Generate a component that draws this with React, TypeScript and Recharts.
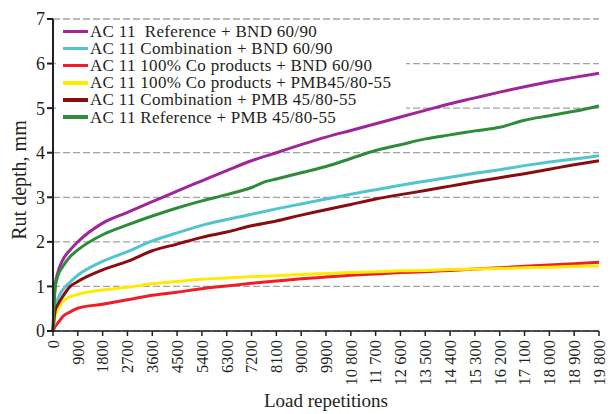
import React from 'react';
import { LineChart, Line, XAxis, YAxis, CartesianGrid, Legend, Label, Customized } from 'recharts';

const loads = [0, 75, 165, 350, 625, 900, 1800, 2700, 3600, 4500, 5400, 6300, 7200, 7700, 8100, 9000, 9900, 10800, 11700, 12600, 13500, 14400, 15300, 16200, 17100, 18000, 18900, 19800];

const refBnd = [0, 1.0, 1.29, 1.59, 1.82, 2.0, 2.42, 2.66, 2.9, 3.14, 3.37, 3.6, 3.82, null, 4.0, 4.18, 4.35, 4.5, 4.65, 4.8, 4.95, 5.1, 5.23, 5.36, 5.48, 5.59, 5.69, 5.78];
const combBnd = [0, 0.5, 0.7, 0.92, 1.1, 1.25, 1.56, 1.78, 2.02, 2.2, 2.37, 2.5, 2.62, null, 2.74, 2.85, 2.96, 3.07, 3.17, 3.27, 3.36, 3.45, 3.54, 3.62, 3.71, 3.79, 3.86, 3.93];
const coBnd = [0, 0.1, 0.17, 0.32, 0.43, 0.51, 0.6, 0.7, 0.8, 0.87, 0.95, 1.01, 1.07, null, 1.12, 1.17, 1.21, 1.25, 1.28, 1.31, 1.33, 1.36, 1.39, 1.42, 1.45, 1.48, 1.51, 1.54];
const coPmb = [0, 0.32, 0.47, 0.66, 0.77, 0.82, 0.92, 0.98, 1.06, 1.11, 1.16, 1.19, 1.22, null, 1.24, 1.27, 1.29, 1.31, 1.33, 1.35, 1.36, 1.38, 1.39, 1.4, 1.42, 1.43, 1.45, 1.46];
const combPmb = [0, 0.45, 0.58, 0.77, 1.0, 1.11, 1.37, 1.56, 1.8, 1.95, 2.1, 2.22, 2.36, null, 2.47, 2.6, 2.72, 2.84, 2.96, 3.06, 3.15, 3.25, 3.35, 3.44, 3.53, 3.63, 3.73, 3.82];
const refPmb = [0, 0.95, 1.22, 1.44, 1.67, 1.82, 2.16, 2.38, 2.58, 2.76, 2.92, 3.06, 3.22, 3.35, 3.41, 3.55, 3.69, 3.87, 4.05, 4.18, 4.31, 4.4, 4.49, 4.57, 4.73, 4.83, 4.93, 5.05];

const xTicks = [0, 900, 1800, 2700, 3600, 4500, 5400, 6300, 7200, 8100, 9000, 9900, 10800, 11700, 12600, 13500, 14400, 15300, 16200, 17100, 18000, 18900, 19800];
const yTicks = [0, 1, 2, 3, 4, 5, 6, 7];

const series = [
  { key: 'refBnd', name: 'AC 11  Reference + BND 60/90', color: '#A0259B', values: refBnd },
  { key: 'combBnd', name: 'AC 11 Combination + BND 60/90', color: '#52C4D0', values: combBnd },
  { key: 'coBnd', name: 'AC 11 100% Co products + BND 60/90', color: '#EE1D26', values: coBnd },
  { key: 'coPmb', name: 'AC 11 100% Co products + PMB45/80-55', color: '#FFEA00', values: coPmb },
  { key: 'combPmb', name: 'AC 11 Combination + PMB 45/80-55', color: '#8A0C0E', values: combPmb },
  { key: 'refPmb', name: 'AC 11 Reference + PMB 45/80-55', color: '#2E8C38', values: refPmb },
];

const data = loads.map((load, i) => {
  const row: Record<string, number | null> = { load };
  series.forEach((s) => {
    row[s.key] = s.values[i];
  });
  return row;
});

const FONT = "'Liberation Serif', 'Times New Roman', serif";
const INK = '#231f20';

const fmtLoad = (v: number) =>
  v >= 10000 ? `${Math.floor(v / 1000)} ${String(v % 1000).padStart(3, '0')}` : String(v);

const XTick = (props: any) => {
  const { x, y, payload } = props;
  return (
    <g transform={`translate(${x},${y})`}>
      <text x={0} y={0} dy="0.35em" transform="rotate(-90)" textAnchor="end" fill={INK} fontSize={16.5} fontFamily={FONT}>
        {fmtLoad(payload.value)}
      </text>
    </g>
  );
};

// white box behind the legend: hides the grid, but the curves stay on top of it
const LegendBackdrop = () => <rect x={56} y={22} width={350} height={100} fill="#fff" />;

const LegendBox = () => (
  <div style={{ padding: '1px 4px 2px 7px', fontFamily: FONT, fontSize: 17, letterSpacing: 0.3, color: INK }}>
    {series.map((s) => (
      <div key={s.key} style={{ display: 'flex', alignItems: 'center', height: 17.1, lineHeight: '17px', whiteSpace: 'pre' }}>
        <span style={{ display: 'inline-block', width: 25, height: 3.5, background: s.color, marginRight: 2 }} />
        <span>{s.name}</span>
      </div>
    ))}
  </div>
);

export default function App() {
  return (
    <div style={{ position: 'absolute', left: 0, top: 0, width: 612, height: 414, background: '#fff' }}>
      <LineChart width={612} height={414} data={data} margin={{ top: 19, right: 13, bottom: 0, left: 0 }}>
        <CartesianGrid vertical={false} stroke="#a3a3a3" strokeDasharray="7 3" strokeWidth={1.3} />
        <Customized component={LegendBackdrop} />
        <XAxis
          dataKey="load"
          type="number"
          domain={[0, 19800]}
          ticks={xTicks}
          interval={0}
          height={83}
          tick={<XTick />}
          tickSize={5}
          tickMargin={4}
          stroke={INK}
          strokeWidth={1.5}
        >
          <Label
            content={() => (
              <text x={326} y={407} textAnchor="middle" fontFamily={FONT} fontSize={19} fill={INK}>
                Load repetitions
              </text>
            )}
          />
        </XAxis>
        <YAxis
          domain={[0, 7]}
          ticks={yTicks}
          width={53}
          tickSize={6}
          tickMargin={2}
          stroke={INK}
          strokeWidth={2}
          tick={{ fill: INK, fontSize: 18, fontFamily: FONT }}
        >
          <Label
            content={() => (
              <text x={26} y={180} transform="rotate(-90 26 180)" textAnchor="middle" fontFamily={FONT} fontSize={20} fill={INK}>
                Rut depth, mm
              </text>
            )}
          />
        </YAxis>
        <Legend
          layout="vertical"
          align="center"
          verticalAlign="middle"
          content={<LegendBox />}
          wrapperStyle={{ left: 56, top: 22, width: 'auto' }}
        />
        {series.map((s) => (
          <Line
            key={s.key}
            type="monotone"
            dataKey={s.key}
            name={s.name}
            stroke={s.color}
            strokeWidth={3}
            dot={false}
            connectNulls
            isAnimationActive={false}
          />
        ))}
      </LineChart>
    </div>
  );
}
